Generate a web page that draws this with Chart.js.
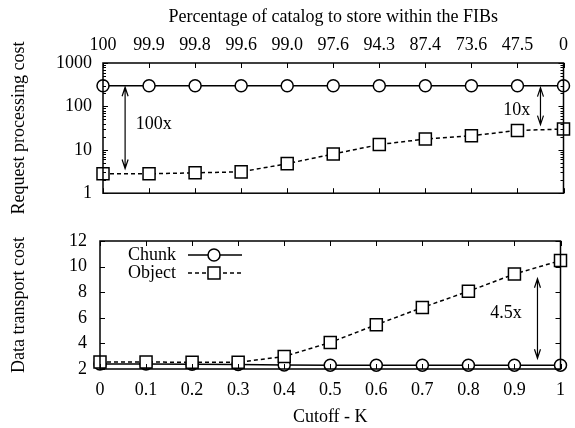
<!DOCTYPE html>
<html>
<head>
<meta charset="utf-8">
<script src="https://cdn.jsdelivr.net/npm/chart.js@4.4.0/dist/chart.umd.min.js"></script>
<style>
  body { margin: 0; background: #fff; }
  #wrap { position: relative; width: 575px; height: 428px; background: #fff; }
  canvas { position: absolute; left: 0; }
</style>
</head>
<body>
<div id="wrap">
  <canvas id="reqChart" width="575" height="215" style="top:0"></canvas>
  <canvas id="dataChart" width="575" height="213" style="top:215px"></canvas>
</div>
<script>
const cutoffs = [0, 0.1, 0.2, 0.3, 0.4, 0.5, 0.6, 0.7, 0.8, 0.9, 1];
const cutoffLabels = ['0', '0.1', '0.2', '0.3', '0.4', '0.5', '0.6', '0.7', '0.8', '0.9', '1'];
const catalogPct = ['100', '99.9', '99.8', '99.6', '99.0', '97.6', '94.3', '87.4', '73.6', '47.5', '0'];

const chunkRequest = [300, 300, 300, 300, 300, 300, 300, 300, 300, 300, 300];
const objectRequest = [2.8, 2.8, 2.95, 3.1, 4.8, 8, 13.2, 17.7, 21, 28, 30];
const chunkTransport = [2.4, 2.4, 2.38, 2.36, 2.32, 2.3, 2.3, 2.3, 2.3, 2.3, 2.3];
const objectTransport = [2.55, 2.55, 2.52, 2.52, 2.98, 4.07, 5.46, 6.8, 8.07, 9.42, 10.47];

const requestTicks = [1, 10, 100, 1000];
const requestMinor = [2, 3, 4, 5, 6, 7, 8, 9, 20, 30, 40, 50, 60, 70, 80, 90, 200, 300, 400, 500, 600, 700, 800, 900];
const transportTicks = [2, 4, 6, 8, 10, 12];

// arrows: [x, yFrom, yTo]; notes: [text, x, y, align]
const requestArrows = [[0.048, 277, 3.7], [0.95, 270, 38]];
const requestNotes = [['100x', 0.071, 38, 'left'], ['10x', 0.928, 83, 'right']];
const transportArrows = [[0.95, 9.05, 2.84]];
const transportNotes = [['4.5x', 0.916, 6.35, 'right']];

const FONT = '"Liberation Serif", "Times New Roman", serif';
Chart.defaults.font.family = FONT;
Chart.defaults.font.size = 18;
Chart.defaults.color = '#000';

function series(label, values, dashed) {
  return {
    label,
    data: cutoffs.map((x, i) => ({ x, y: values[i] })),
    borderColor: '#000',
    borderWidth: 1.5,
    borderDash: dashed ? [4, 3] : [],
    pointStyle: dashed ? 'rect' : 'circle',
    pointRadius: dashed ? 8.5 : 6,
    pointBackgroundColor: '#fff',
    pointBorderColor: '#000',
    pointBorderWidth: 1.5,
    tension: 0,
    clip: false,
    order: dashed ? 0 : 1
  };
}

function drawMarker(ctx, square, x, y) {
  ctx.beginPath();
  if (square) {
    const s = 8.5 * Math.SQRT1_2;
    ctx.rect(x - s, y - s, 2 * s, 2 * s);
  } else {
    ctx.arc(x, y, 6, 0, Math.PI * 2);
  }
  ctx.fillStyle = '#fff';
  ctx.fill();
  ctx.lineWidth = 1.5;
  ctx.setLineDash([]);
  ctx.stroke();
}

function arrowHead(ctx, x, y, dir) {
  ctx.moveTo(x - 3, y + dir * 9);
  ctx.lineTo(x, y);
  ctx.lineTo(x + 3, y + dir * 9);
}

const deco = {
  id: 'deco',
  afterDatasetsDraw(chart, args, opts) {
    const { ctx, chartArea: a, scales } = chart;
    const xs = scales.x, ys = scales.y;
    ctx.save();
    ctx.strokeStyle = '#000';
    ctx.lineWidth = 1;
    ctx.beginPath();
    cutoffs.forEach(v => {
      const px = Math.round(xs.getPixelForValue(v)) + 0.5;
      ctx.moveTo(px, a.bottom); ctx.lineTo(px, a.bottom - 5);
      ctx.moveTo(px, a.top); ctx.lineTo(px, a.top + 5);
    });
    const yTick = (v, len) => {
      const py = Math.round(ys.getPixelForValue(v)) + 0.5;
      ctx.moveTo(a.left, py); ctx.lineTo(a.left + len, py);
      ctx.moveTo(a.right, py); ctx.lineTo(a.right - len, py);
    };
    opts.yTicks.forEach(v => yTick(v, 5));
    (opts.yMinor || []).forEach(v => yTick(v, 3));
    ctx.stroke();

    ctx.lineWidth = 1.5;
    ctx.strokeRect(a.left, a.top, a.right - a.left, a.bottom - a.top);

    // annotation arrows
    ctx.lineWidth = 1.2;
    opts.arrows.forEach(([x, y1, y2]) => {
      const px = xs.getPixelForValue(x);
      const p1 = ys.getPixelForValue(y1), p2 = ys.getPixelForValue(y2);
      ctx.beginPath();
      ctx.moveTo(px, p1); ctx.lineTo(px, p2);
      arrowHead(ctx, px, p1, 1);
      arrowHead(ctx, px, p2, -1);
      ctx.stroke();
    });
    ctx.fillStyle = '#000';
    ctx.font = '18px ' + FONT;
    ctx.textBaseline = 'middle';
    opts.notes.forEach(([text, x, y, align]) => {
      ctx.textAlign = align;
      ctx.fillText(text, xs.getPixelForValue(x), ys.getPixelForValue(y));
    });

    // key
    if (opts.legend) {
      chart.data.datasets.forEach((ds, i) => {
        const y = a.top + 14 + i * 18;
        ctx.fillStyle = '#000';
        ctx.textAlign = 'left';
        ctx.fillText(ds.label, a.left + 28, y);
        ctx.beginPath();
        ctx.setLineDash(ds.borderDash);
        ctx.lineWidth = 1.5;
        ctx.moveTo(a.left + 88, y); ctx.lineTo(a.left + 142, y);
        ctx.stroke();
        drawMarker(ctx, ds.pointStyle === 'rect', a.left + 114, y);
      });
    }
    ctx.restore();
  }
};

const noGrid = { display: false, drawTicks: false };

new Chart(document.getElementById('reqChart'), {
  type: 'line',
  data: {
    datasets: [
      series('Chunk', chunkRequest, false),
      series('Object', objectRequest, true)
    ]
  },
  options: {
    responsive: false,
    animation: false,
    devicePixelRatio: 1,
    events: [],
    layout: { autoPadding: false, padding: { left: 0, right: 9, top: 0, bottom: 19 } },
    scales: {
      x: { type: 'linear', min: 0, max: 1, display: false },
      x2: {
        type: 'linear', position: 'top', min: 0, max: 1,
        afterBuildTicks: s => { s.ticks = cutoffs.map(v => ({ value: v })); },
        afterFit: s => { s.height = 63; },
        grid: noGrid, border: { display: false },
        ticks: { padding: 7, autoSkip: false, maxRotation: 0, callback: (v, i) => catalogPct[i] },
        title: { display: true, text: 'Percentage of catalog to store within the FIBs', padding: { top: 6, bottom: 0 } }
      },
      y: {
        type: 'logarithmic', min: 1, max: 1000,
        afterBuildTicks: s => { s.ticks = requestTicks.map(v => ({ value: v })); },
        afterFit: s => { s.width = 103; },
        grid: noGrid, border: { display: false },
        ticks: { padding: 11, callback: v => String(v) },
        title: { display: true, text: 'Request processing cost', padding: { top: 8, bottom: 0 } }
      }
    },
    plugins: {
      legend: { display: false },
      tooltip: { enabled: false },
      deco: { yTicks: requestTicks, yMinor: requestMinor, arrows: requestArrows, notes: requestNotes, legend: false }
    }
  },
  plugins: [deco]
});

new Chart(document.getElementById('dataChart'), {
  type: 'line',
  data: {
    datasets: [
      series('Chunk', chunkTransport, false),
      series('Object', objectTransport, true)
    ]
  },
  options: {
    responsive: false,
    animation: false,
    devicePixelRatio: 1,
    events: [],
    layout: { autoPadding: false, padding: { left: 0, right: 9, top: 26, bottom: 0 } },
    scales: {
      x: {
        type: 'linear', min: 0, max: 1,
        afterBuildTicks: s => { s.ticks = cutoffs.map(v => ({ value: v })); },
        afterFit: s => { s.height = 59; },
        grid: noGrid, border: { display: false },
        ticks: { padding: 10, autoSkip: false, maxRotation: 0, callback: (v, i) => cutoffLabels[i] },
        title: { display: true, text: 'Cutoff - K', padding: { top: 0, bottom: 0 } }
      },
      y: {
        type: 'linear', min: 2, max: 12,
        afterBuildTicks: s => { s.ticks = transportTicks.map(v => ({ value: v })); },
        afterFit: s => { s.width = 100; },
        grid: noGrid, border: { display: false },
        ticks: { padding: 13 },
        title: { display: true, text: 'Data transport cost', padding: { top: 8, bottom: 0 } }
      }
    },
    plugins: {
      legend: { display: false },
      tooltip: { enabled: false },
      deco: { yTicks: transportTicks, arrows: transportArrows, notes: transportNotes, legend: true }
    }
  },
  plugins: [deco]
});
</script>
</body>
</html>
